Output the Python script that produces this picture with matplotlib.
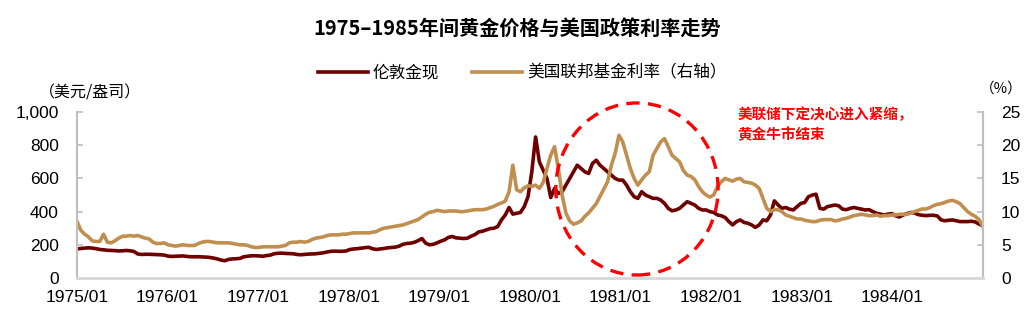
import matplotlib
matplotlib.use('Agg')
import matplotlib.pyplot as plt
import matplotlib.dates as mdates
from matplotlib.patches import Ellipse
import numpy as np
import pandas as pd

CJK = ['Noto Sans CJK SC', 'DejaVu Sans']
plt.rcParams['font.family'] = ['Liberation Sans', 'DejaVu Sans']

DARK = '#6E0000'
TAN = '#C08F4F'
GRID = '#BFBFBF'

# semi-monthly readings, 24 per year, 1975 .. 1984
gold = [
    175, 178, 180, 182, 180, 177, 172, 170, 167, 166, 165, 163, 164, 166, 164, 160, 145, 142, 143, 143, 142, 141, 140, 138,  # 1975
    132, 130, 131, 132, 133, 130, 128, 128, 128, 127, 126, 124, 120, 115, 108, 104, 112, 115, 116, 118, 128, 131, 134, 134,  # 1976
    133, 131, 135, 138, 146, 149, 150, 148, 147, 146, 142, 140, 142, 144, 145, 146, 149, 152, 157, 161, 162, 161, 161, 163,  # 1977
    172, 175, 177, 180, 183, 185, 176, 172, 175, 178, 182, 184, 186, 192, 203, 208, 210, 215, 225, 238, 210, 200, 203, 212,  # 1978
    222, 230, 245, 250, 242, 240, 238, 240, 252, 262, 278, 282, 290, 298, 300, 310, 350, 380, 425, 385, 390, 395, 430, 490,  # 1979
    640, 850, 700, 650, 600, 485, 540, 510, 520, 560, 600, 640, 680, 660, 640, 630, 690, 710, 680, 660, 640, 620, 600, 590,  # 1980
    590, 560, 520, 490, 480, 520, 500, 490, 480, 480, 470, 450, 420, 405, 410, 420, 440, 460, 450, 440, 420, 410, 410, 400,  # 1981
    395, 380, 375, 365, 340, 320, 340, 350, 335, 330, 320, 305, 320, 350, 345, 380, 465, 440, 420, 425, 415, 410, 430, 450,  # 1982
    455, 490, 500, 505, 420, 415, 430, 435, 440, 435, 415, 412, 420, 425, 420, 415, 410, 412, 400, 390, 385, 380, 385, 388,  # 1983
    375, 368, 380, 388, 395, 392, 382, 378, 376, 378, 378, 374, 350, 345, 348, 350, 345, 340, 340, 340, 342, 338, 325, 315,  # 1984
]

fed_funds = [
    8.5, 7.2, 6.6, 6.2, 5.6, 5.5, 5.5, 6.6, 5.4, 5.3, 5.6, 6.0, 6.3, 6.3, 6.4, 6.3, 6.4, 6.2, 6.0, 5.9, 5.4, 5.2, 5.2, 5.3,  # 1975
    5.0, 4.9, 4.8, 4.9, 5.0, 4.9, 4.9, 4.9, 5.2, 5.4, 5.5, 5.5, 5.4, 5.3, 5.3, 5.3, 5.3, 5.2, 5.1, 5.0, 5.0, 4.9, 4.7, 4.6,  # 1976
    4.6, 4.7, 4.7, 4.7, 4.7, 4.7, 4.8, 4.9, 5.3, 5.4, 5.4, 5.5, 5.4, 5.5, 5.8, 6.0, 6.1, 6.2, 6.4, 6.5, 6.5, 6.5, 6.6, 6.6,  # 1977
    6.7, 6.8, 6.8, 6.8, 6.8, 6.8, 6.9, 7.0, 7.3, 7.5, 7.6, 7.7, 7.8, 7.9, 8.0, 8.2, 8.4, 8.6, 8.8, 9.2, 9.6, 9.9, 10.0, 10.2,  # 1978
    10.1, 10.0, 10.1, 10.1, 10.1, 10.0, 10.0, 10.1, 10.2, 10.3, 10.3, 10.3, 10.4, 10.6, 10.8, 11.1, 11.3, 11.6, 13.0, 17.0, 13.3, 13.0, 13.6, 13.9,  # 1979
    13.8, 14.0, 13.5, 14.4, 16.5, 18.5, 19.8, 16.5, 12.5, 9.8, 8.6, 8.1, 8.3, 8.6, 9.3, 9.8, 10.5, 11.2, 12.3, 13.4, 14.5, 17.0, 18.8, 21.5,  # 1980
    20.5, 18.5, 16.5, 15.0, 14.0, 14.8, 15.5, 16.0, 18.5, 19.5, 20.5, 21.0, 19.8, 18.5, 18.0, 17.5, 16.2, 15.5, 15.3, 14.8, 13.8, 13.0, 12.5, 12.2,  # 1981
    12.5, 13.8, 14.5, 15.0, 14.8, 14.6, 14.9, 15.0, 14.5, 14.4, 14.3, 14.0, 13.5, 12.0, 10.5, 10.0, 10.3, 10.3, 10.0, 9.5, 9.3, 9.1, 8.9, 8.9,  # 1982
    8.7, 8.6, 8.5, 8.5, 8.7, 8.8, 8.8, 8.8, 8.6, 8.7, 8.9, 9.0, 9.2, 9.4, 9.5, 9.6, 9.5, 9.4, 9.4, 9.5, 9.3, 9.4, 9.4, 9.5,  # 1983
    9.5, 9.6, 9.6, 9.6, 9.8, 10.0, 10.2, 10.4, 10.4, 10.6, 10.9, 11.1, 11.2, 11.4, 11.6, 11.7, 11.5, 11.2, 10.6, 10.0, 9.6, 9.3, 8.8, 7.8,  # 1984
]

left_ticks = [0, 200, 400, 600, 800, 1000]
left_labels = ['0', '200', '400', '600', '800', '1,000']
right_ticks = [0, 5, 10, 15, 20, 25]

title = '1975–1985年间黄金价格与美国政策利率走势'
gold_name = '伦敦金现'
rate_name = '美国联邦基金利率（右轴）'
note = '美联储下定决心进入紧缩，\n黄金牛市结束'

dates = pd.date_range('1975-01-01', '1984-12-31', periods=len(gold))

fig = plt.figure(figsize=(10.34, 3.24), dpi=100)
ax = fig.add_axes([0.0745, 0.142, 0.8762, 0.512])
ax2 = ax.twinx()

l1, = ax.plot(dates, gold, color=DARK, lw=2.6, solid_joinstyle='round')
l2, = ax2.plot(dates, fed_funds, color=TAN, lw=2.6, solid_joinstyle='round')

ax.set_xlim(pd.Timestamp('1975-01-01'), pd.Timestamp('1985-01-01'))
ax.set_ylim(0, 1000)
ax2.set_ylim(0, 25)

ax.xaxis.set_major_locator(mdates.YearLocator())
ax.xaxis.set_major_formatter(mdates.DateFormatter('%Y/%m'))
ax.set_xticks(ax.get_xticks()[:-1])

ax.set_yticks(left_ticks)
ax.set_yticklabels(left_labels)
ax2.set_yticks(right_ticks)

for a in (ax, ax2):
    a.spines['top'].set_visible(False)
    for s in ('left', 'right'):
        a.spines[s].set_color(GRID)
        a.spines[s].set_linewidth(1.5)
    a.spines['bottom'].set_color('#D9D9D9')
    a.spines['bottom'].set_linewidth(2)
    a.tick_params(axis='y', direction='in', length=4, width=1.2, color=GRID,
                  labelsize=12.5, pad=13)
ax.tick_params(axis='x', length=0, labelsize=12.5, pad=9)

fig.text(0.5, 0.91, title, ha='center', va='center', fontsize=14.5,
         fontweight='bold', family=CJK)

fig.legend([l1, l2], [gold_name, rate_name], loc='center', bbox_to_anchor=(0.505, 0.775),
           ncol=2, frameon=False, handlelength=3.0, columnspacing=2.0, handletextpad=0.3,
           prop={'family': CJK, 'size': 12})

fig.text(0.038, 0.713, '（美元/盎司）', ha='left', va='center', fontsize=11.5, family=CJK)
fig.text(0.968, 0.728, '（%）', ha='center', va='center', fontsize=10.5, family=CJK)

fig.text(0.713, 0.616, note, ha='left', va='center', fontsize=10.5, color='red',
         fontweight='bold', family=CJK, linespacing=1.35)

fig.patches.append(Ellipse((0.616, 0.4167), 0.157, 0.531, transform=fig.transFigure,
                           fill=False, edgecolor='red', lw=2.4, ls=(0, (4, 2.5)), zorder=10))

fig.savefig('out.png', dpi=100)
